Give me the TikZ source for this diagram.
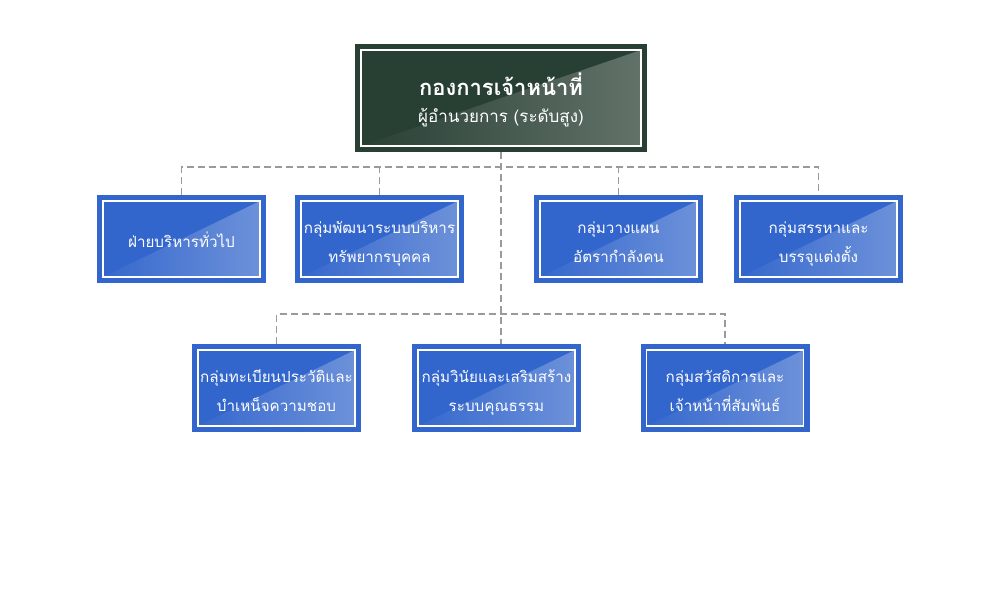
\documentclass[tikz,border=0pt]{standalone}
\usepackage{fontspec}
\newfontfamily\thaifont[Script=Thai]{Loma}
\definecolor{bbase}{HTML}{3366CC}
\definecolor{blight}{HTML}{6F93DA}
\definecolor{gbase}{HTML}{283F34}
\definecolor{glight}{HTML}{637369}
\definecolor{conncol}{HTML}{9A9A9A}
\newcommand\topstrut{\rule{0pt}{23pt}}
\newcommand\botstrut{\rule[-6pt]{0pt}{6pt}}
\tikzset{
  x=1pt,y=-1pt,
  orgbox/.style={minimum width=169pt, minimum height=88pt, inner sep=0pt,
    fill=bbase, text=white, align=center, font=\thaifont\fontsize{15.2}{29}\selectfont,
    path picture={
      \shade[left color=bbase, right color=blight]
        ([xshift=6pt,yshift=6pt]path picture bounding box.south west) --
        ([xshift=-6pt,yshift=6pt]path picture bounding box.south east) --
        ([xshift=-6pt,yshift=-6pt]path picture bounding box.north east) -- cycle;
      \draw[white, line width=1.5pt]
        ([xshift=6pt,yshift=-6pt]path picture bounding box.north west) rectangle
        ([xshift=-6pt,yshift=6pt]path picture bounding box.south east);
    }},
  topbox/.style={minimum width=292pt, minimum height=108pt, inner sep=0pt,
    fill=gbase, text=white, align=center, font=\thaifont\fontsize{17}{12}\selectfont,
    path picture={
      \shade[left color=gbase, right color=glight]
        ([xshift=6pt,yshift=6pt]path picture bounding box.south west) --
        ([xshift=-6pt,yshift=6pt]path picture bounding box.south east) --
        ([xshift=-6pt,yshift=-6pt]path picture bounding box.north east) -- cycle;
      \draw[white, line width=2pt]
        ([xshift=6pt,yshift=-6pt]path picture bounding box.north west) rectangle
        ([xshift=-6pt,yshift=6pt]path picture bounding box.south east);
    }},
  conn/.style={draw=conncol, line width=1.8pt, dash pattern=on 7pt off 4pt}
}
\begin{document}
\begin{tikzpicture}
\useasboundingbox[fill=white] (0,0) rectangle (1000,600);
\node[topbox] (top) at (501,98) {{\bfseries\fontsize{22}{12}\selectfont\rule[-8pt]{0pt}{34pt}กองการเจ้าหน้าที่}\\\rule[-5pt]{0pt}{23pt}ผู้อำนวยการ (ระดับสูง)};
\node[orgbox] (b1) at (181.5,239) {\topstrut ฝ่ายบริหารทั่วไป\botstrut};
\node[orgbox] (b2) at (379.5,239) {\topstrut กลุ่มพัฒนาระบบบริหาร\\ทรัพยากรบุคคล\botstrut};
\node[orgbox] (b3) at (618.5,239) {\topstrut กลุ่มวางแผน\\อัตรากำลังคน\botstrut};
\node[orgbox] (b4) at (818.5,239) {\topstrut กลุ่มสรรหาและ\\บรรจุแต่งตั้ง\botstrut};
\node[orgbox] (b5) at (276.5,388) {\topstrut กลุ่มทะเบียนประวัติและ\\บำเหน็จความชอบ\botstrut};
\node[orgbox] (b6) at (496.5,388) {\topstrut กลุ่มวินัยและเสริมสร้าง\\ระบบคุณธรรม\botstrut};
\node[orgbox] (b7) at (725,388) {\topstrut กลุ่มสวัสดิการและ\\เจ้าหน้าที่สัมพันธ์\botstrut};
\coordinate (j1) at (501,167);
\coordinate (j2) at (501,314);
\path[conn] (top.south) -- (j1 |- b6.north);
\path[conn] (b1.north) |- (b4.north |- j1) -- (b4.north);
\path[conn] (b2.north) -- (b2.north |- j1);
\path[conn] (b3.north) -- (b3.north |- j1);
\path[conn] (b5.north) |- (b7.north |- j2) -- (b7.north);
\end{tikzpicture}
\end{document}
